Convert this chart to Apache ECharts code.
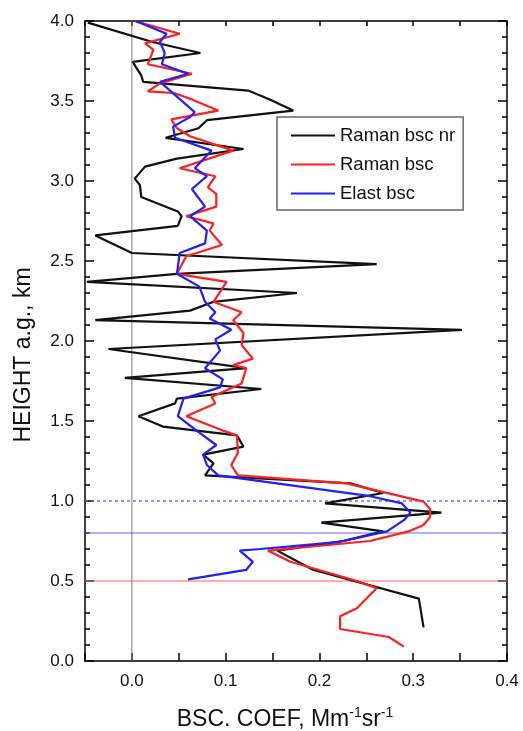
<!DOCTYPE html>
<html>
<head>
<meta charset="utf-8">
<script src="https://cdn.jsdelivr.net/npm/echarts@6/dist/echarts.min.js"></script>
<style>
  html, body { margin: 0; padding: 0; background: #fff; }
  #chart { width: 523px; height: 731px; }
</style>
</head>
<body>
<div id="chart"></div>
<script>
(function() {
  'use strict';

  // Raman bsc nr (black)
  var nrX = [-0.047, 0.021, 0.073, 0.001, 0.004, 0.010, 0.012, 0.124, 0.147, 0.172, 0.080, 0.071, 0.036, 0.119,
    0.048, 0.014, 0.003, 0.0085, 0.010, 0.049, 0.053, 0.049, -0.039, 0.000, 0.261, 0.048, -0.048, 0.176, 0.087,
    0.062, -0.039, 0.352, -0.025, 0.122, -0.0075, 0.138, 0.048, 0.046, 0.007, 0.033, 0.112, 0.119, 0.076, 0.087,
    0.078, 0.233, 0.268, 0.206, 0.330, 0.202, 0.268, 0.225, 0.155, 0.193, 0.306, 0.311];
  var nrH = [3.99, 3.87, 3.80, 3.745, 3.715, 3.66, 3.62, 3.565, 3.51, 3.44, 3.38, 3.33, 3.27, 3.20,
    3.14, 3.09, 3.015, 2.975, 2.90, 2.81, 2.78, 2.72, 2.66, 2.55, 2.48, 2.42, 2.37, 2.30, 2.245,
    2.19, 2.13, 2.07, 1.95, 1.83, 1.77, 1.70, 1.64, 1.61, 1.53, 1.465, 1.41, 1.34, 1.29, 1.235,
    1.16, 1.11, 1.05, 0.985, 0.927, 0.865, 0.81, 0.75, 0.69, 0.57, 0.39, 0.21];

  // Raman bsc (red)
  var rbX = [0.003, 0.051, 0.014, 0.023, 0.017, 0.064, 0.030, 0.017, 0.045, 0.064, 0.092, 0.042, 0.048, 0.062,
    0.108, 0.051, 0.089, 0.081, 0.090, 0.090, 0.058, 0.087, 0.083, 0.096, 0.058, 0.048, 0.101, 0.087, 0.117,
    0.108, 0.119, 0.117, 0.129, 0.108, 0.122, 0.117, 0.085, 0.089, 0.058, 0.097, 0.112, 0.113, 0.106, 0.113,
    0.229, 0.265, 0.311, 0.318, 0.318, 0.311, 0.295, 0.254, 0.145, 0.169, 0.240, 0.261, 0.240, 0.222, 0.222,
    0.274, 0.290];
  var rbH = [4.0, 3.92, 3.86, 3.82, 3.73, 3.67, 3.61, 3.56, 3.55, 3.51, 3.44, 3.385, 3.33, 3.28,
    3.19, 3.08, 3.03, 2.96, 2.92, 2.84, 2.78, 2.735, 2.69, 2.60, 2.53, 2.42, 2.37, 2.245, 2.18,
    2.13, 2.05, 1.975, 1.89, 1.85, 1.83, 1.735, 1.65, 1.61, 1.53, 1.44, 1.41, 1.30, 1.225, 1.16,
    1.11, 1.06, 0.996, 0.95, 0.90, 0.85, 0.81, 0.75, 0.69, 0.62, 0.50, 0.455, 0.33, 0.28, 0.20,
    0.15, 0.09];

  // Elast bsc (blue)
  var elX = [0.004, 0.037, 0.030, 0.035, 0.032, 0.060, 0.030, 0.067, 0.062, 0.044, 0.046, 0.085, 0.067, 0.080,
    0.064, 0.078, 0.062, 0.080, 0.078, 0.051, 0.048, 0.072, 0.078, 0.089, 0.083, 0.106, 0.089, 0.094, 0.078,
    0.097, 0.094, 0.055, 0.049, 0.069, 0.090, 0.076, 0.080, 0.092, 0.254, 0.288, 0.297, 0.290, 0.272, 0.222,
    0.137, 0.115, 0.129, 0.122, 0.060];
  var elH = [4.0, 3.92, 3.87, 3.80, 3.73, 3.67, 3.62, 3.43, 3.40, 3.34, 3.27, 3.19, 3.08, 3.03,
    2.95, 2.84, 2.78, 2.69, 2.61, 2.55, 2.42, 2.34, 2.245, 2.18, 2.14, 2.07, 2.01, 1.94, 1.83,
    1.76, 1.71, 1.64, 1.53, 1.44, 1.35, 1.29, 1.225, 1.16, 1.03, 0.985, 0.927, 0.88, 0.81, 0.745,
    0.70, 0.69, 0.62, 0.57, 0.51];

  var seriesNames = ['Raman bsc nr', 'Raman bsc', 'Elast bsc'];
  var xTicks = [-0.05, 0.4, 0.05];   // min, max, step
  var yTicks = [0, 4, 0.5];
  var refHeights = [1.0, 0.8, 0.5];  // dashed blue, blue, red

  function pairs(xs, hs) {
    var out = [];
    for (var i = 0; i < xs.length; i++) {
      out.push([xs[i], hs[i]]);
    }
    return out;
  }

  function isTenth(v) {
    return Math.abs(v * 10 - Math.round(v * 10)) < 1e-6;
  }

  // straight reference line drawn as a two-point series
  function refLine(name, pts, color, type, width) {
    return {
      name: name, type: 'line', data: pts, symbol: 'none', z: 1, silent: true,
      lineStyle: { color: color, width: width, type: type },
      itemStyle: { color: color },
      emphasis: { disabled: true }
    };
  }

  var FONT = 'Liberation Sans, Arial, sans-serif';
  var grid = { left: 85, right: 16, top: 21, bottom: 70 };

  var chart = echarts.init(document.getElementById('chart'), null, { renderer: 'canvas' });

  var option = {
    animation: false,
    backgroundColor: '#fff',
    grid: grid,
    legend: {
      data: seriesNames,
      orient: 'vertical',
      left: 277,
      top: 117,
      icon: 'rect',
      itemWidth: 44,
      itemHeight: 2,
      itemGap: 10,
      padding: [9, 8, 7, 14],
      backgroundColor: '#fff',
      borderColor: '#666',
      borderWidth: 1.5,
      textStyle: { fontFamily: FONT, fontSize: 18.5, lineHeight: 14, color: '#111' }
    },
    xAxis: [
      { // main bottom axis, labels + minor ticks
        type: 'value', position: 'bottom', min: xTicks[0], max: xTicks[1], interval: xTicks[2],
        axisLine: { show: true, onZero: false, lineStyle: { color: '#000', width: 1.5 } },
        axisTick: { show: true, inside: true, length: 4, lineStyle: { color: '#000', width: 1.5 } },
        axisLabel: {
          margin: 12, fontFamily: FONT, fontSize: 17, color: '#111',
          formatter: function(v) { return isTenth(v) ? v.toFixed(1) : ''; }
        },
        splitLine: { show: false }
      },
      { // major ticks on the bottom
        type: 'value', position: 'bottom', min: xTicks[0], max: xTicks[1], interval: xTicks[2],
        axisLine: { show: false, onZero: false },
        axisTick: {
          show: true, inside: true, length: 8, lineStyle: { color: '#000', width: 1.5 },
          interval: function(idx, val) { return isTenth(+val); }
        },
        axisLabel: { show: false },
        splitLine: { show: false }
      },
      { // top frame
        type: 'value', position: 'top', min: xTicks[0], max: xTicks[1], interval: xTicks[2],
        axisLine: { show: true, onZero: false, lineStyle: { color: '#000', width: 1.5 } },
        axisTick: { show: true, inside: true, length: 5, lineStyle: { color: '#000', width: 1.5 } },
        axisLabel: { show: false },
        splitLine: { show: false }
      }
    ],
    yAxis: [
      {
        type: 'value', position: 'left', min: yTicks[0], max: yTicks[1], interval: yTicks[2],
        axisLine: { show: true, onZero: false, lineStyle: { color: '#000', width: 1.5 } },
        axisTick: { show: true, inside: true, length: 9, lineStyle: { color: '#000', width: 1.5 } },
        minorTick: { show: true, splitNumber: 5, length: 5, lineStyle: { color: '#000', width: 1.5 } },
        axisLabel: {
          margin: 11, fontFamily: FONT, fontSize: 17, color: '#111',
          formatter: function(v) { return v.toFixed(1); }
        },
        splitLine: { show: false },
        minorSplitLine: { show: false }
      },
      {
        type: 'value', position: 'right', min: yTicks[0], max: yTicks[1], interval: yTicks[2],
        axisLine: { show: true, onZero: false, lineStyle: { color: '#000', width: 1.5 } },
        axisTick: { show: true, inside: true, length: 9, lineStyle: { color: '#000', width: 1.5 } },
        minorTick: { show: true, splitNumber: 5, length: 5, lineStyle: { color: '#000', width: 1.5 } },
        axisLabel: { show: false },
        splitLine: { show: false },
        minorSplitLine: { show: false }
      }
    ],
    graphic: [
      {
        type: 'text', x: 24, y: 355, rotation: Math.PI / 2,
        style: {
          text: 'HEIGHT a.g., km', font: '23px ' + FONT, fill: '#111',
          align: 'center', verticalAlign: 'middle'
        }
      },
      {
        type: 'text', x: 285, y: 720,
        style: {
          text: '{a|BSC. COEF, Mm}{s|-1}{a|sr}{s|-1}',
          align: 'center', verticalAlign: 'middle', fill: '#111',
          rich: {
            a: { fontFamily: FONT, fontSize: 23, lineHeight: 27, fill: '#111' },
            s: { fontFamily: FONT, fontSize: 14, lineHeight: 15, verticalAlign: 'top', fill: '#111' }
          }
        }
      }
    ],
    series: [
      refLine('zero', [[0, yTicks[0]], [0, yTicks[1]]], '#7a7a7a', 'solid', 1),
      refLine('h1', [[xTicks[0], refHeights[0]], [xTicks[1], refHeights[0]]], '#5c5cff', [3, 3], 1.3),
      refLine('h2', [[xTicks[0], refHeights[1]], [xTicks[1], refHeights[1]]], '#6262ff', 'solid', 1),
      refLine('h3', [[xTicks[0], refHeights[2]], [xTicks[1], refHeights[2]]], '#ff5e5e', 'solid', 1),
      {
        name: seriesNames[0], type: 'line', xAxisIndex: 0, yAxisIndex: 0,
        data: pairs(nrX, nrH), symbol: 'none', z: 3,
        lineStyle: { color: '#111', width: 2.2 }, itemStyle: { color: '#111' }
      },
      {
        name: seriesNames[1], type: 'line', xAxisIndex: 0, yAxisIndex: 0,
        data: pairs(rbX, rbH), symbol: 'none', z: 4,
        lineStyle: { color: '#ff1f1f', width: 2.2 }, itemStyle: { color: '#ff1f1f' }
      },
      {
        name: seriesNames[2], type: 'line', xAxisIndex: 0, yAxisIndex: 0,
        data: pairs(elX, elH), symbol: 'none', z: 5,
        lineStyle: { color: '#1f1fff', width: 2.2 }, itemStyle: { color: '#1f1fff' }
      }
    ]
  };

  chart.setOption(option);
}());
</script>
</body>
</html>
